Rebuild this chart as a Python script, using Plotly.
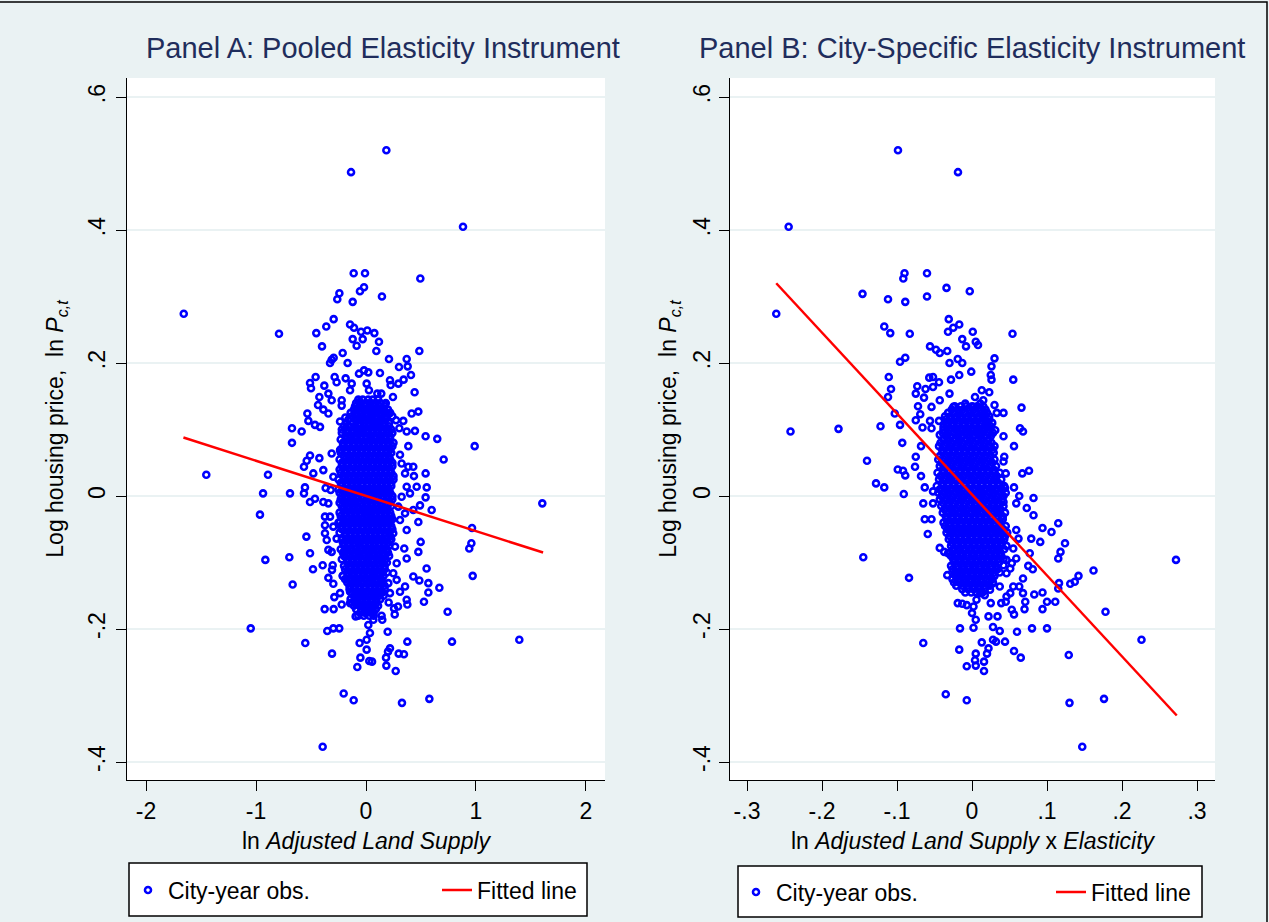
import plotly.graph_objects as go

# ---------------- Data: Panel A (ln Adjusted Land Supply) ----------------
a_x = [0.185, -0.136, 0.882, -0.112, -0.009, 0.494, -0.018, -0.055, -0.242, -0.261, -0.121, 0.145, -1.657, -0.791,
       -0.452, -0.361, -0.294, -0.145, -0.109, -0.045, 0.012, 0.076, -0.121, -0.030, 0.118, -0.085, -0.400, 0.094,
       0.485, -0.212, -0.294, -0.312, -0.327, -0.167, 0.209, 0.370, 0.300, 0.379, 0.409, 0.127, -0.018, 0.021, -0.064,
       -0.285, -0.458, -0.509, -0.500, -0.379, -0.185, -0.267, -0.130, 0.006, 0.218, 0.294, 0.342, 0.224, 0.442, 0.245,
       0.103, 0.139, 0.027, -0.145, -0.342, -0.424, -0.312, -0.436, -0.388, -0.221, -0.221, -0.055, 0.067, 0.173,
       -0.342, -0.533, -0.524, -0.673, -0.585, -0.188, -0.100, 0.203, 0.415, 0.476, 0.273, 0.339, 0.445, 0.370, 0.303,
       0.542, 0.648, -0.464, -0.418, -0.236, 0.097, -0.055,
       -0.673, -1.452, -0.891, -0.936, -0.691, -0.964, -0.542, -0.915, -0.697, -0.509, -0.482, -0.667, -1.048, -0.552,
       -0.309, -0.352, -0.297, -0.243, -0.376, -0.294, -0.221, -0.094, -0.203, -0.112, 0.327, 0.576, -0.394, -0.058,
       0.006, -0.051, -0.079, 0.030, 0.055, 0.185, 0.182, 0.218, 0.200, 0.270, 0.297, 0.345, 0.376, 0.197, 0.006, 0.036,
       0.021, 0.067, 0.148, 0.142, -0.003, 0.261, 0.255, 0.291, 0.376, 0.527, 0.742, 0.782, 1.394, 0.970, 0.667, 0.567,
       0.567, 0.485, 0.551, 0.939, 0.958, 0.964, 1.603, 0.988, 0.706, 0.476, 0.497, 0.476, 0.597, 0.542, 0.552, 0.542,
       0.370, 0.355, 0.370, 0.430, 0.218, 0.206, 0.309, 0.370, 0.348, 0.264, 0.279, 0.248, 0.279, 0.203, 0.142, 0.127,
       0.067, 0.036, -0.039, -0.085, -0.145, -0.145, -0.130, -0.212, -0.342, -0.297, -0.394, -0.303, -0.309, -0.288,
       -0.236, -0.191, -0.342, -0.312, -0.357, -0.267, -0.373, -0.373, -0.297, -0.373, -0.327, -0.236, -0.388, -0.342,
       -0.509, -0.464, -0.564, -0.555, -0.479, -0.564, -0.539, -0.509, -0.424, -0.388, -0.367, -0.321, -0.297, -0.312,
       -0.236, 0.309, 0.385, 0.324, 0.385, 0.430, 0.355, 0.436, 0.370, 0.461, 0.400, 0.324, 0.294, 0.355, 0.430, 0.491,
       0.218, 0.309, 0.248, 0.218]
a_y = [0.520, 0.487, 0.405, 0.335, 0.335, 0.327, 0.314, 0.308, 0.305, 0.296, 0.292, 0.300, 0.274, 0.244,
       0.245, 0.255, 0.266, 0.258, 0.253, 0.247, 0.249, 0.245, 0.236, 0.236, 0.232, 0.226, 0.225, 0.218,
       0.218, 0.215, 0.208, 0.205, 0.200, 0.200, 0.206, 0.206, 0.194, 0.195, 0.182, 0.185, 0.189, 0.186, 0.184,
       0.179, 0.179, 0.170, 0.162, 0.166, 0.177, 0.171, 0.169, 0.169, 0.174, 0.169, 0.175, 0.167, 0.156, 0.149,
       0.154, 0.154, 0.159, 0.159, 0.154, 0.149, 0.144, 0.137, 0.130, 0.136, 0.144, 0.142, 0.139, 0.138,
       0.124, 0.124, 0.113, 0.102, 0.097, 0.118, 0.124, 0.124, 0.124, 0.127, 0.114, 0.113, 0.098, 0.097, 0.102,
       0.090, 0.086, 0.107, 0.104, 0.112, 0.109, 0.099,
       0.080, 0.032, 0.032, 0.004, 0.004, -0.028, -0.061, -0.096, -0.092, -0.086, -0.110, -0.133, -0.199, -0.221,
       -0.237, -0.203, -0.199, -0.199, -0.170, -0.170, -0.163, -0.181, -0.297, -0.307, -0.311, -0.305, -0.377, -0.221,
       -0.231, -0.243, -0.257, -0.248, -0.249, -0.255, -0.243, -0.229, -0.234, -0.263, -0.237, -0.238, -0.219, -0.204,
       -0.216, -0.206, -0.194, -0.186, -0.186, -0.180, -0.176, -0.178, -0.169, -0.166, -0.163, -0.159, -0.174, -0.219,
       -0.216, -0.120, -0.138, -0.145, -0.131, -0.127, -0.109, -0.079, -0.071, -0.048, -0.011, 0.075, 0.055, -0.084,
       -0.069, -0.039, -0.021, -0.002, 0.013, 0.034, -0.051, -0.136, -0.156, -0.121, -0.146, -0.160, -0.144, -0.094,
       -0.079, -0.076, -0.101, -0.116, -0.126, -0.131, -0.131, -0.119, -0.121, -0.151, -0.151, -0.161, -0.161, -0.144,
       -0.126, -0.120, -0.123, -0.132, -0.104, -0.104, -0.111, -0.152, -0.146, -0.091, -0.081, -0.084, -0.066, -0.064,
       -0.056, -0.044, -0.046, -0.031, -0.031, -0.039, -0.009, -0.011, -0.009, -0.004, 0.004, 0.013, 0.034, 0.044,
       0.053, 0.061, 0.057, 0.039, 0.012, 0.009, 0.029, 0.064, 0.069, 0.062, 0.075, 0.049, 0.044, 0.044, 0.034, 0.030,
       0.014, 0.014, 0.004, -0.001, -0.016, -0.026, -0.021, -0.014, -0.036, -0.036, -0.056, -0.066]

# dense core of Panel A, read row by row (row y value, x values in that row)
a_core_rows_y = [0.14, 0.13, 0.12, 0.11, 0.10, 0.09, 0.08, 0.07, 0.06, 0.05, 0.04, 0.03, 0.02, 0.01, 0.00,
                 -0.01, -0.02, -0.03, -0.04, -0.05, -0.06, -0.07, -0.08, -0.09, -0.10, -0.11, -0.12, -0.13,
                 -0.14, -0.15, -0.16, -0.17, -0.18,
                 0.145, 0.135, 0.125, 0.115, 0.105, 0.095, 0.085, 0.075, 0.065, 0.055, 0.045, 0.035, 0.025, 0.015,
                 0.005, -0.005, -0.015, -0.025, -0.035, -0.045, -0.055, -0.065, -0.075, -0.085, -0.095, -0.105,
                 -0.115, -0.125, -0.135, -0.145, -0.155, -0.165, -0.175]
a_core_rows_x = [
    [-0.09, -0.05, 0.00, 0.04, 0.09, 0.13, 0.18],
    [-0.11, -0.07, -0.02, 0.03, 0.07, 0.11, 0.16, 0.20],
    [-0.13, -0.08, -0.03, 0.01, 0.05, 0.10, 0.14, 0.19, 0.24],
    [-0.18, -0.12, -0.06, -0.02, 0.02, 0.07, 0.12, 0.16, 0.21],
    [-0.22, -0.17, -0.12, -0.08, -0.03, 0.01, 0.06, 0.10, 0.15, 0.19, 0.23],
    [-0.19, -0.14, -0.10, -0.05, 0.00, 0.04, 0.08, 0.13, 0.17, 0.22],
    [-0.21, -0.16, -0.11, -0.07, -0.02, 0.02, 0.07, 0.11, 0.16, 0.20, 0.25],
    [-0.23, -0.18, -0.13, -0.09, -0.04, 0.00, 0.05, 0.09, 0.14, 0.18, 0.22],
    [-0.20, -0.15, -0.11, -0.06, -0.01, 0.03, 0.08, 0.12, 0.17, 0.21],
    [-0.22, -0.17, -0.12, -0.08, -0.03, 0.01, 0.06, 0.10, 0.15, 0.19, 0.24],
    [-0.24, -0.19, -0.14, -0.09, -0.05, 0.00, 0.04, 0.09, 0.13, 0.18, 0.22],
    [-0.21, -0.16, -0.11, -0.07, -0.02, 0.02, 0.07, 0.11, 0.16, 0.20, 0.25],
    [-0.23, -0.18, -0.13, -0.09, -0.04, 0.01, 0.05, 0.09, 0.14, 0.18, 0.23],
    [-0.25, -0.20, -0.15, -0.10, -0.06, -0.01, 0.03, 0.08, 0.12, 0.17, 0.21],
    [-0.22, -0.17, -0.12, -0.08, -0.03, 0.02, 0.06, 0.10, 0.15, 0.19, 0.24],
    [-0.24, -0.19, -0.14, -0.10, -0.05, 0.00, 0.04, 0.09, 0.13, 0.18, 0.22],
    [-0.21, -0.16, -0.11, -0.07, -0.02, 0.03, 0.07, 0.11, 0.16, 0.20],
    [-0.23, -0.18, -0.13, -0.09, -0.04, 0.01, 0.05, 0.09, 0.14, 0.18, 0.23],
    [-0.25, -0.20, -0.15, -0.10, -0.06, -0.01, 0.03, 0.08, 0.12, 0.17, 0.21],
    [-0.22, -0.17, -0.12, -0.08, -0.03, 0.02, 0.06, 0.11, 0.15, 0.19, 0.24],
    [-0.19, -0.14, -0.10, -0.05, 0.00, 0.04, 0.09, 0.13, 0.18, 0.22],
    [-0.21, -0.16, -0.11, -0.07, -0.02, 0.03, 0.07, 0.12, 0.16, 0.20],
    [-0.23, -0.18, -0.13, -0.09, -0.04, 0.01, 0.05, 0.10, 0.14, 0.19],
    [-0.20, -0.15, -0.10, -0.06, -0.01, 0.03, 0.08, 0.12, 0.17, 0.21],
    [-0.17, -0.12, -0.08, -0.03, 0.02, 0.06, 0.11, 0.15, 0.19],
    [-0.19, -0.14, -0.09, -0.05, 0.00, 0.04, 0.09, 0.13, 0.17],
    [-0.21, -0.16, -0.11, -0.07, -0.02, 0.03, 0.07, 0.12, 0.16],
    [-0.17, -0.12, -0.08, -0.03, 0.02, 0.06, 0.10, 0.15],
    [-0.15, -0.10, -0.06, -0.01, 0.04, 0.08, 0.13, 0.17],
    [-0.11, -0.07, -0.02, 0.03, 0.07, 0.12, 0.16],
    [-0.13, -0.08, -0.04, 0.01, 0.05, 0.10],
    [-0.09, -0.04, 0.00, 0.05, 0.09],
    [-0.07, -0.02, 0.03, 0.07],
    [-0.07, -0.03, 0.02, 0.06, 0.11],
    [-0.10, -0.06, -0.01, 0.03, 0.08, 0.12, 0.17],
    [-0.14, -0.09, -0.05, 0.00, 0.04, 0.08, 0.13, 0.17, 0.22],
    [-0.16, -0.10, -0.05, -0.01, 0.04, 0.09, 0.13, 0.18],
    [-0.20, -0.15, -0.10, -0.06, -0.01, 0.03, 0.08, 0.12, 0.17, 0.21],
    [-0.22, -0.17, -0.12, -0.07, -0.03, 0.02, 0.06, 0.11, 0.15, 0.20, 0.24],
    [-0.23, -0.18, -0.13, -0.09, -0.04, 0.00, 0.05, 0.09, 0.14, 0.18, 0.22],
    [-0.21, -0.16, -0.11, -0.06, -0.02, 0.03, 0.07, 0.12, 0.16, 0.20, 0.24],
    [-0.23, -0.18, -0.13, -0.08, -0.04, 0.01, 0.05, 0.10, 0.14, 0.19, 0.23],
    [-0.24, -0.19, -0.14, -0.10, -0.05, -0.01, 0.04, 0.08, 0.13, 0.17, 0.22],
    [-0.22, -0.17, -0.12, -0.07, -0.03, 0.02, 0.06, 0.11, 0.15, 0.20, 0.24],
    [-0.23, -0.18, -0.13, -0.09, -0.04, 0.00, 0.05, 0.09, 0.14, 0.18, 0.23],
    [-0.25, -0.20, -0.15, -0.11, -0.06, -0.02, 0.03, 0.07, 0.12, 0.16, 0.21, 0.25],
    [-0.22, -0.17, -0.12, -0.08, -0.03, 0.01, 0.06, 0.10, 0.15, 0.19, 0.23],
    [-0.24, -0.19, -0.14, -0.10, -0.05, -0.01, 0.04, 0.08, 0.13, 0.17, 0.22],
    [-0.23, -0.18, -0.13, -0.08, -0.03, 0.02, 0.06, 0.11, 0.15, 0.20, 0.24],
    [-0.22, -0.17, -0.12, -0.08, -0.03, 0.01, 0.06, 0.10, 0.15, 0.19, 0.23],
    [-0.24, -0.19, -0.14, -0.10, -0.05, -0.01, 0.04, 0.08, 0.13, 0.17, 0.22],
    [-0.21, -0.16, -0.11, -0.07, -0.02, 0.03, 0.07, 0.11, 0.16, 0.20, 0.24],
    [-0.23, -0.18, -0.13, -0.08, -0.04, 0.01, 0.05, 0.10, 0.14, 0.19, 0.23],
    [-0.24, -0.19, -0.14, -0.10, -0.05, -0.01, 0.04, 0.08, 0.13, 0.17, 0.21],
    [-0.22, -0.17, -0.12, -0.08, -0.03, 0.02, 0.06, 0.11, 0.15, 0.19, 0.23],
    [-0.20, -0.15, -0.10, -0.06, -0.01, 0.04, 0.08, 0.12, 0.17, 0.21],
    [-0.21, -0.16, -0.11, -0.07, -0.02, 0.02, 0.07, 0.11, 0.16, 0.20],
    [-0.22, -0.17, -0.12, -0.08, -0.04, 0.01, 0.05, 0.10, 0.14, 0.18],
    [-0.20, -0.15, -0.10, -0.06, -0.01, 0.03, 0.08, 0.12, 0.17],
    [-0.17, -0.12, -0.07, -0.03, 0.02, 0.06, 0.11, 0.15, 0.19],
    [-0.19, -0.14, -0.09, -0.05, 0.00, 0.05, 0.09, 0.14],
    [-0.15, -0.10, -0.06, -0.01, 0.04, 0.08, 0.12, 0.17],
    [-0.13, -0.08, -0.04, 0.01, 0.06, 0.10, 0.15],
    [-0.14, -0.09, -0.05, 0.00, 0.05, 0.09, 0.13],
    [-0.11, -0.06, -0.02, 0.03, 0.07, 0.11],
    [-0.05, -0.01, 0.03, 0.07],
]
a_fit_x = [-1.66, 1.61]
a_fit_y = [0.088, -0.085]

# ---------------- Data: Panel B (ln Adjusted Land Supply x Elasticity) ----------------
b_x = [-0.0987, -0.0187, -0.2445, -0.261, -0.090, -0.0916, -0.060, -0.034, -0.003, -0.146, -0.112, -0.089, -0.060,
       -0.031, -0.017, -0.025, -0.032, 0.001, -0.117, -0.109, -0.083, 0.054, -0.013, -0.008, 0.005, 0.008, -0.056,
       -0.048, -0.043, -0.033, -0.030, -0.019, -0.013, -0.096, -0.089, 0.030, 0.026, 0.025, 0.026, 0.055, 0.066, 0.064,
       0.068, -0.111, -0.108, -0.112, -0.103, -0.242, -0.178, -0.122, -0.096, -0.075, -0.069, -0.072, -0.054, -0.043,
       -0.075, -0.073, -0.064, -0.062, -0.057, -0.052, -0.044, -0.052, -0.030, -0.028, -0.017, -0.001, 0.013, 0.023,
       0.004, 0.030, 0.042, 0.033, 0.015, 0.021, 0.031, 0.042, -0.056, -0.044, -0.038, -0.054, -0.066, -0.043, -0.027,
       -0.016, -0.003, -0.025, -0.009, 0.002, 0.011, 0.015, -0.012, 0.002, 0.011,
       -0.093, -0.140, -0.099, -0.092, -0.089, -0.128, -0.117, -0.091, -0.076, -0.075, -0.068, -0.068, -0.063, -0.052,
       -0.065, -0.052, -0.063, -0.054, -0.059, -0.043, -0.037, -0.032, -0.145, -0.084, -0.033, -0.020, -0.017, -0.065,
       -0.017, -0.016, 0.002, 0.005, 0.000, -0.019, -0.013, -0.007, 0.005, 0.004, 0.005, 0.016, 0.016, 0.020, 0.022,
       0.013, 0.028, 0.032, 0.044, 0.056, 0.065, 0.037, 0.028, 0.022, 0.034, 0.025, 0.039, 0.045, 0.053, 0.056, 0.060,
       0.080, 0.100, 0.070, 0.071, 0.083, 0.094, 0.100, 0.094, 0.111, 0.116, 0.115, 0.131, 0.137, 0.142, 0.162, 0.178,
       0.226, 0.272, 0.129, 0.130, 0.176, 0.147, -0.035, -0.007, 0.115, 0.106, 0.094, 0.124, 0.118, 0.115, 0.091,
       0.079, 0.077, 0.075, 0.081, 0.082, 0.082, 0.073, 0.063, 0.059, 0.056, 0.067, 0.076, 0.056, 0.043, 0.042, 0.045,
       0.044, 0.042, 0.041, 0.059, 0.062, 0.055, 0.059, 0.068, 0.063, 0.068, 0.055, 0.051, 0.046, 0.037, 0.028, 0.024,
       0.017, 0.011, 0.006, 0.002, -0.007, 0.046, 0.051, 0.053, 0.042, 0.046]
b_y = [0.520, 0.487, 0.405, 0.274, 0.335, 0.327, 0.335, 0.313, 0.308, 0.304, 0.296, 0.292, 0.300,
       0.266, 0.258, 0.253, 0.247, 0.247, 0.255, 0.245, 0.244, 0.244, 0.236, 0.225, 0.232, 0.227, 0.225,
       0.220, 0.215, 0.218, 0.200, 0.206, 0.200, 0.202, 0.208, 0.207, 0.195, 0.182, 0.175, 0.175, 0.133, 0.102,
       0.097, 0.179, 0.161, 0.149, 0.124, 0.097, 0.101, 0.105, 0.107, 0.114, 0.123, 0.135, 0.134, 0.144,
       0.154, 0.165, 0.148, 0.161, 0.178, 0.179, 0.171, 0.164, 0.154, 0.175, 0.182, 0.187, 0.159, 0.156,
       0.149, 0.137, 0.125, 0.125, 0.122, 0.103, 0.099, 0.090, 0.113, 0.113, 0.104, 0.102, 0.103, 0.092, 0.109,
       0.119, 0.129, 0.134, 0.139, 0.134, 0.139, 0.144, 0.099, 0.099, 0.094,
       0.080, 0.053, 0.040, 0.038, 0.031, 0.019, 0.013, 0.003, 0.044, 0.059, 0.075, 0.030, 0.013, 0.007,
       -0.011, -0.011, -0.035, -0.035, -0.057, -0.078, -0.084, -0.086, -0.092, -0.123, -0.119, -0.119, -0.095, -0.221,
       -0.231, -0.199, -0.198, -0.186, -0.176, -0.161, -0.162, -0.256, -0.255, -0.247, -0.237, -0.263, -0.249, -0.237,
       -0.229, -0.220, -0.216, -0.219, -0.219, -0.233, -0.243, -0.203, -0.197, -0.181, -0.181, -0.161, -0.161, -0.159,
       -0.171, -0.178, -0.204, -0.199, -0.199, -0.170, -0.159, -0.148, -0.145, -0.159, -0.170, -0.159, -0.131, -0.139,
       -0.132, -0.129, -0.120, -0.112, -0.174, -0.216, -0.096, -0.239, -0.311, -0.305, -0.377, -0.298, -0.307, -0.041,
       -0.054, -0.048, -0.071, -0.084, -0.094, -0.069, -0.064, -0.086, -0.105, -0.110, -0.029, -0.003, -0.018, 0.000,
       -0.011, 0.013, 0.034, 0.038, 0.075, 0.059, 0.052, 0.034, 0.012, -0.009, -0.031, -0.051, -0.064, -0.079, -0.094,
       -0.124, -0.136, -0.146, -0.136, -0.146, -0.151, -0.136, -0.131, -0.141, -0.149, -0.146, -0.156, -0.166, -0.164,
       -0.116, -0.109, -0.101, -0.104, -0.096]

b_core_rows_y = [0.13, 0.12, 0.11, 0.10, 0.09, 0.08, 0.07, 0.06, 0.05, 0.04, 0.03, 0.02, 0.01, 0.00, -0.01,
                 -0.02, -0.03, -0.04, -0.05, -0.06, -0.07, -0.08, -0.09, -0.10, -0.11, -0.12, -0.13, -0.14,
                 0.135, 0.125, 0.115, 0.105, 0.095, 0.085, 0.075, 0.065, 0.055, 0.045, 0.035, 0.025, 0.015, 0.005,
                 -0.005, -0.015, -0.025, -0.035, -0.045, -0.055, -0.065, -0.075, -0.085, -0.095, -0.105, -0.115,
                 -0.125, -0.135, -0.145]
b_core_rows_x = [
    [-0.027, -0.019, -0.012, -0.004, 0.003, 0.011, 0.018],
    [-0.036, -0.029, -0.021, -0.014, -0.006, 0.001, 0.009, 0.016, 0.023],
    [-0.033, -0.026, -0.018, -0.011, -0.003, 0.004, 0.012, 0.019, 0.027],
    [-0.038, -0.030, -0.022, -0.015, -0.007, 0.000, 0.008, 0.015, 0.022],
    [-0.035, -0.028, -0.020, -0.013, -0.005, 0.002, 0.010, 0.017, 0.025],
    [-0.042, -0.034, -0.027, -0.019, -0.012, -0.004, 0.003, 0.011, 0.018, 0.026],
    [-0.040, -0.032, -0.025, -0.017, -0.010, -0.002, 0.005, 0.013, 0.020, 0.028],
    [-0.043, -0.035, -0.028, -0.020, -0.013, -0.005, 0.002, 0.010, 0.017, 0.025],
    [-0.041, -0.033, -0.026, -0.018, -0.011, -0.003, 0.004, 0.012, 0.019, 0.027],
    [-0.039, -0.031, -0.024, -0.016, -0.009, -0.001, 0.006, 0.014, 0.021, 0.029],
    [-0.042, -0.034, -0.027, -0.019, -0.012, -0.004, 0.003, 0.011, 0.018, 0.026, 0.033],
    [-0.040, -0.032, -0.025, -0.017, -0.010, -0.002, 0.005, 0.013, 0.020, 0.028, 0.035],
    [-0.043, -0.035, -0.028, -0.020, -0.013, -0.005, 0.002, 0.010, 0.017, 0.025, 0.032, 0.040],
    [-0.041, -0.033, -0.026, -0.018, -0.011, -0.003, 0.004, 0.012, 0.019, 0.027, 0.034, 0.042],
    [-0.039, -0.031, -0.024, -0.016, -0.009, -0.001, 0.006, 0.014, 0.021, 0.029, 0.036],
    [-0.037, -0.029, -0.022, -0.014, -0.007, 0.001, 0.008, 0.016, 0.023, 0.031, 0.038],
    [-0.035, -0.027, -0.020, -0.012, -0.005, 0.003, 0.010, 0.018, 0.025, 0.033, 0.040],
    [-0.038, -0.030, -0.023, -0.015, -0.008, 0.000, 0.007, 0.015, 0.022, 0.030, 0.037],
    [-0.033, -0.026, -0.018, -0.011, -0.003, 0.004, 0.012, 0.019, 0.027, 0.034, 0.042],
    [-0.030, -0.023, -0.015, -0.008, 0.000, 0.007, 0.015, 0.022, 0.030, 0.037, 0.044],
    [-0.027, -0.020, -0.012, -0.005, 0.003, 0.010, 0.018, 0.025, 0.033, 0.040],
    [-0.025, -0.017, -0.010, -0.002, 0.005, 0.013, 0.020, 0.028, 0.035, 0.043],
    [-0.028, -0.021, -0.013, -0.006, 0.002, 0.009, 0.017, 0.024, 0.032, 0.039],
    [-0.024, -0.016, -0.009, -0.001, 0.006, 0.014, 0.021, 0.029, 0.036],
    [-0.026, -0.019, -0.011, -0.004, 0.004, 0.011, 0.019, 0.026, 0.034],
    [-0.022, -0.015, -0.007, 0.000, 0.008, 0.015, 0.023, 0.030],
    [-0.024, -0.017, -0.009, -0.002, 0.006, 0.013, 0.021, 0.028],
    [-0.013, -0.005, 0.002, 0.010, 0.017],
    [-0.023, -0.015, -0.008, 0.000, 0.007, 0.015],
    [-0.032, -0.025, -0.017, -0.010, -0.002, 0.005, 0.013, 0.020],
    [-0.035, -0.029, -0.022, -0.014, -0.007, 0.001, 0.008, 0.016, 0.023],
    [-0.034, -0.026, -0.019, -0.011, -0.004, 0.004, 0.011, 0.019, 0.025],
    [-0.039, -0.032, -0.024, -0.017, -0.009, -0.002, 0.006, 0.013, 0.021, 0.028],
    [-0.038, -0.031, -0.023, -0.016, -0.008, -0.001, 0.007, 0.014, 0.022],
    [-0.044, -0.036, -0.029, -0.021, -0.014, -0.006, 0.001, 0.009, 0.016, 0.024, 0.030],
    [-0.039, -0.031, -0.024, -0.016, -0.009, -0.001, 0.006, 0.014, 0.021, 0.029],
    [-0.045, -0.037, -0.030, -0.022, -0.015, -0.007, 0.000, 0.008, 0.015, 0.023, 0.030],
    [-0.043, -0.035, -0.028, -0.020, -0.013, -0.005, 0.002, 0.010, 0.017, 0.025, 0.032],
    [-0.046, -0.038, -0.031, -0.023, -0.016, -0.008, -0.001, 0.007, 0.014, 0.022, 0.030, 0.037],
    [-0.044, -0.036, -0.029, -0.021, -0.014, -0.006, 0.001, 0.009, 0.016, 0.024, 0.031, 0.039],
    [-0.047, -0.039, -0.032, -0.024, -0.017, -0.009, -0.002, 0.006, 0.013, 0.021, 0.028, 0.036, 0.043],
    [-0.045, -0.037, -0.030, -0.022, -0.015, -0.007, 0.000, 0.008, 0.015, 0.023, 0.030, 0.038, 0.045],
    [-0.043, -0.035, -0.028, -0.020, -0.013, -0.005, 0.002, 0.010, 0.017, 0.025, 0.032, 0.040],
    [-0.041, -0.033, -0.026, -0.018, -0.011, -0.003, 0.004, 0.012, 0.019, 0.027, 0.034, 0.042],
    [-0.039, -0.031, -0.024, -0.016, -0.009, -0.001, 0.006, 0.014, 0.021, 0.029, 0.036, 0.044],
    [-0.034, -0.026, -0.019, -0.011, -0.004, 0.004, 0.011, 0.019, 0.026, 0.034, 0.041],
    [-0.036, -0.029, -0.022, -0.014, -0.007, 0.001, 0.008, 0.016, 0.023, 0.031, 0.038, 0.045],
    [-0.034, -0.027, -0.019, -0.012, -0.004, 0.003, 0.011, 0.018, 0.026, 0.033, 0.041, 0.047],
    [-0.031, -0.024, -0.016, -0.009, -0.001, 0.006, 0.014, 0.021, 0.029, 0.036, 0.043],
    [-0.028, -0.021, -0.013, -0.006, 0.002, 0.009, 0.017, 0.024, 0.032, 0.039, 0.046],
    [-0.029, -0.021, -0.014, -0.006, 0.001, 0.009, 0.016, 0.024, 0.031, 0.038],
    [-0.025, -0.017, -0.010, -0.002, 0.005, 0.013, 0.020, 0.028, 0.035, 0.042],
    [-0.028, -0.020, -0.013, -0.005, 0.002, 0.010, 0.017, 0.025, 0.032],
    [-0.023, -0.015, -0.008, 0.000, 0.007, 0.015, 0.022, 0.030, 0.037],
    [-0.026, -0.018, -0.011, -0.003, 0.004, 0.012, 0.019, 0.027],
    [-0.021, -0.013, -0.006, 0.002, 0.009, 0.017, 0.024],
    [-0.009, -0.001, 0.006, 0.014],
]
b_fit_x = [-0.261, 0.273]
b_fit_y = [0.320, -0.330]

# ---------------- Tick labels ----------------
y_tickvals = [-0.4, -0.2, 0, 0.2, 0.4, 0.6]
y_ticktext = ["-.4", "-.2", "0", ".2", ".4", ".6"]
a_x_tickvals = [-2, -1, 0, 1, 2]
a_x_ticktext = ["-2", "-1", "0", "1", "2"]
b_x_tickvals = [-0.3, -0.2, -0.1, 0, 0.1, 0.2, 0.3]
b_x_ticktext = ["-.3", "-.2", "-.1", "0", ".1", ".2", ".3"]


def flatten(rows_y, rows_x):
    xs, ys = [], []
    for yv, row in zip(rows_y, rows_x):
        for xv in row:
            xs.append(xv)
            ys.append(yv)
    return xs, ys


ca_x, ca_y = flatten(a_core_rows_y, a_core_rows_x)
cb_x, cb_y = flatten(b_core_rows_y, b_core_rows_x)

W, H = 1269, 922
FONT = "Liberation Sans, Arial, sans-serif"
BG = "#eaf2f3"
BLUE = "#0000ff"
RED = "#ff0000"
TITLE_C = "#1f2d5c"
FS = 23


def px(x):
    return x / W


def py(y):
    return 1 - y / H


marker = dict(symbol="circle-open", size=6, color=BLUE, line=dict(width=2.6, color=BLUE))

fig = go.Figure()
fig.add_trace(go.Scatter(x=a_x + ca_x, y=a_y + ca_y, mode="markers", marker=marker,
                         name="City-year obs.", xaxis="x", yaxis="y", legend="legend"))
fig.add_trace(go.Scatter(x=a_fit_x, y=a_fit_y, mode="lines", line=dict(color=RED, width=2.5),
                         name="Fitted line", xaxis="x", yaxis="y", legend="legend"))
fig.add_trace(go.Scatter(x=b_x + cb_x, y=b_y + cb_y, mode="markers", marker=marker,
                         name="City-year obs.", xaxis="x2", yaxis="y2", legend="legend2"))
fig.add_trace(go.Scatter(x=b_fit_x, y=b_fit_y, mode="lines", line=dict(color=RED, width=2.5),
                         name="Fitted line", xaxis="x2", yaxis="y2", legend="legend2"))

ydom = [py(780), py(78)]
common_x = dict(showline=True, linecolor="black", linewidth=1, ticks="outside", ticklen=10,
                tickcolor="black", showgrid=False, zeroline=False,
                tickfont=dict(size=FS, color="black", family=FONT))
common_y = dict(showline=True, linecolor="black", linewidth=1, ticks="outside", ticklen=10,
                tickcolor="black", showgrid=True, gridcolor=BG, gridwidth=2, zeroline=False,
                tickangle=-90, tickvals=y_tickvals, ticktext=y_ticktext, range=[-0.427, 0.6286],
                tickfont=dict(size=FS, color="black", family=FONT))

ytitle = "Log housing price,  ln <i>P</i><sub><i>c,t</i></sub>"

fig.update_layout(
    width=W, height=H,
    margin=dict(l=0, r=0, t=0, b=0, autoexpand=False),
    paper_bgcolor=BG, plot_bgcolor="white",
    font=dict(family=FONT, size=FS, color="black"),
    xaxis=dict(domain=[px(127), px(605)], anchor="y", range=[-2.173, 2.173],
               tickvals=a_x_tickvals, ticktext=a_x_ticktext,
               title=dict(text="ln <i>Adjusted Land Supply</i>", font=dict(size=FS), standoff=10),
               **common_x),
    yaxis=dict(domain=ydom, anchor="x", ticklabelstandoff=2,
               title=dict(text=ytitle, font=dict(size=FS), standoff=13), **common_y),
    xaxis2=dict(domain=[px(730), px(1215)], anchor="y2", range=[-0.3227, 0.324],
                tickvals=b_x_tickvals, ticktext=b_x_ticktext,
                title=dict(text="ln <i>Adjusted Land Supply</i> x <i>Elasticity</i>", font=dict(size=FS),
                           standoff=10),
                **common_x),
    yaxis2=dict(domain=ydom, anchor="x2",
                title=dict(text=ytitle, font=dict(size=FS), standoff=5), **common_y),
    legend=dict(orientation="h", x=px(128), y=py(890), xanchor="left", yanchor="middle",
                bgcolor="rgba(0,0,0,0)", borderwidth=0, entrywidth=264, entrywidthmode="pixels",
                font=dict(size=FS, color="black", family=FONT)),
    legend2=dict(orientation="h", x=px(736), y=py(892), xanchor="left", yanchor="middle",
                 bgcolor="rgba(0,0,0,0)", borderwidth=0, entrywidth=270, entrywidthmode="pixels",
                 font=dict(size=FS, color="black", family=FONT)),
    annotations=[
        dict(text="Panel A: Pooled Elasticity Instrument", x=px(383), y=py(48), xref="paper", yref="paper",
             showarrow=False, font=dict(size=29, color=TITLE_C, family=FONT), xanchor="center", yanchor="middle"),
        dict(text="Panel B: City-Specific Elasticity Instrument", x=px(972), y=py(48), xref="paper",
             yref="paper", showarrow=False, font=dict(size=29, color=TITLE_C, family=FONT),
             xanchor="center", yanchor="middle"),
    ],
    shapes=[
        dict(type="rect", xref="paper", yref="paper", x0=px(129), x1=px(587), y0=py(916), y1=py(863),
             line=dict(color="black", width=1.5), fillcolor="white", layer="below"),
        dict(type="rect", xref="paper", yref="paper", x0=px(738), x1=px(1202), y0=py(917), y1=py(866),
             line=dict(color="black", width=1.5), fillcolor="white", layer="below"),
        dict(type="rect", xref="paper", yref="paper", x0=-0.01, x1=px(1267), y0=-0.01, y1=py(2),
             line=dict(color="black", width=1.5), fillcolor="rgba(0,0,0,0)", layer="above"),
    ],
)

fig.write_html("out.html", config={"displayModeBar": False},
               post_script="document.body.style.margin='0px';document.body.style.overflow='hidden';")
